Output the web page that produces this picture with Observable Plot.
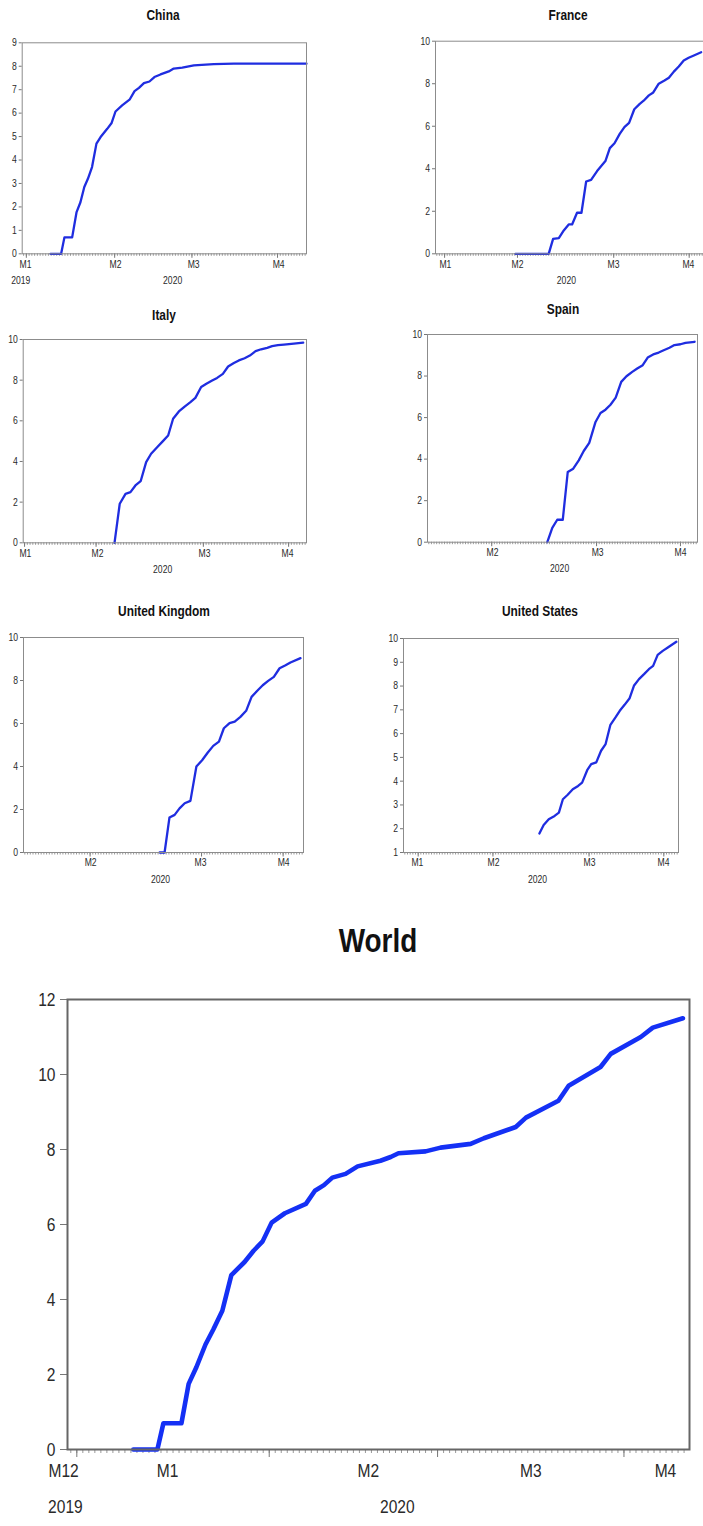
<!DOCTYPE html>
<html><head><meta charset="utf-8">
<script src="https://cdn.jsdelivr.net/npm/d3@7"></script>
<script src="https://cdn.jsdelivr.net/npm/@observablehq/plot@0.6"></script>
<style>
body{margin:0;background:#fff;}
#root{position:relative;width:703px;height:1526px;overflow:hidden;font-family:"Liberation Sans",Arial,sans-serif;background:#fff;}
.ttl{position:absolute;font-weight:bold;white-space:nowrap;color:#111;line-height:1;}
.pan{position:absolute;}
.pan svg{color:#2a2a2a;overflow:visible;}
</style></head><body><div id="root"></div>
<script>
// ---- data (x = day index from 31 Dec 2019, y = log of cumulative cases) ----
const chinaDays = [9.75,13.6,14.8,17.6,19.2,20.6,22.0,23.3,24.8,26.4,27.9,30.3,31.9,33.3,35.7,38.5,40.2,41.8,43.6,45.6,47.4,49.6,52.6,54.4,57.5,61.7,68.9,76.2,102.5];
const chinaVals = [0,0,0.7,0.7,1.78,2.2,2.85,3.2,3.7,4.7,4.98,5.33,5.58,6.07,6.33,6.59,6.94,7.08,7.28,7.35,7.54,7.65,7.78,7.9,7.94,8.04,8.09,8.11,8.11];

const franceDays = [30.2,43.0,44.7,46.9,48.8,50.7,52.0,53.9,55.6,57.4,59.3,61.6,64.8,66.5,68.3,70.3,72.1,73.9,75.9,78.0,79.5,81.5,83.2,85.3,87.5,89.2,91.1,93.0,94.9,96.8,98.8,101.6];
const franceVals = [0,0,0.7,0.74,1.1,1.38,1.38,1.93,1.93,3.4,3.48,3.89,4.36,4.97,5.2,5.64,5.96,6.16,6.8,7.05,7.2,7.45,7.59,8.0,8.15,8.28,8.57,8.81,9.09,9.22,9.33,9.48];

const italyDays = [32.7,34.6,36.7,38.5,40.3,42.2,44.2,46.0,48.2,50.3,52.2,54.0,56.1,58.2,60.3,62.1,64.2,66.1,68.2,70.0,72.1,74.0,76.1,77.9,80.0,81.9,84.0,86.0,88.2,90.0,92.1,94.3,97.9,101.3];
const italyVals = [0,1.92,2.41,2.49,2.82,3.03,3.97,4.38,4.7,5.0,5.28,6.1,6.46,6.7,6.92,7.13,7.66,7.82,7.98,8.11,8.31,8.67,8.84,8.97,9.08,9.21,9.43,9.52,9.59,9.67,9.72,9.75,9.8,9.85];

const spainDays = [45.2,47.1,49.0,51.1,53.0,55.1,57.2,59.1,61.2,63.6,65.5,67.4,69.3,71.3,73.4,75.4,77.6,79.5,81.6,83.5,85.6,87.7,89.6,91.8,93.7,96.0,97.9,101.4];
const spainVals = [0,0.69,1.08,1.08,3.38,3.54,3.94,4.39,4.78,5.79,6.22,6.38,6.62,6.96,7.72,7.99,8.2,8.36,8.52,8.89,9.04,9.13,9.24,9.36,9.49,9.53,9.6,9.65];

const ukDays = [49.6,51.4,53.2,55.1,56.9,58.8,60.9,63.1,65.2,67.3,69.3,71.4,73.2,75.3,77.2,79.3,81.4,83.4,85.5,87.5,89.5,91.6,93.7,95.9,97.7,101.4];
const ukVals = [0,0,1.63,1.75,2.05,2.29,2.4,4.0,4.29,4.65,4.96,5.16,5.78,6.02,6.09,6.31,6.59,7.24,7.52,7.78,7.98,8.17,8.57,8.71,8.84,9.04];

const usDays = [50.4,52.0,53.9,56.1,57.7,59.2,61.0,62.9,64.9,66.4,68.3,69.8,71.7,73.5,75.2,77.0,78.9,80.5,82.3,84.2,85.8,87.7,89.6,91.4,93.0,94.7,96.6,98.5,101.7];
const usVals = [1.8,2.16,2.4,2.54,2.68,3.24,3.43,3.66,3.8,3.94,4.46,4.72,4.79,5.28,5.56,6.37,6.68,6.96,7.21,7.49,8.01,8.29,8.5,8.71,8.85,9.31,9.48,9.62,9.86];

const worldDays = [10.4,14.4,15.4,18.4,19.6,20.9,22.4,23.7,25.2,26.7,28.9,30.4,31.9,33.4,35.6,39.1,40.6,42.1,43.5,45.7,47.7,51.5,53.2,54.5,59.0,61.5,66.5,68.7,74.0,75.7,81.1,82.8,88.1,89.8,94.8,96.8,101.8];
const worldVals = [0,0,0.7,0.7,1.75,2.2,2.8,3.2,3.7,4.65,5.0,5.3,5.55,6.05,6.3,6.55,6.9,7.05,7.25,7.35,7.55,7.7,7.8,7.9,7.95,8.05,8.15,8.3,8.6,8.85,9.3,9.7,10.2,10.55,11.0,11.25,11.5];

// tick labels
const countries = ["China","France","Italy","Spain","United Kingdom","United States"];
const monthsA = ["M1","M2","M3","M4"];
const monthsB = ["M2","M3","M4"];
const monthsW = ["M12","M1","M2","M3","M4"];
const yearsA = ["2019","2020"];
const yearsB = ["2020"];
const ticks9 = [0,1,2,3,4,5,6,7,8,9];
const ticks10 = [0,2,4,6,8,10];
const ticks1to10 = [1,2,3,4,5,6,7,8,9,10];
const ticksW = [0,2,4,6,8,10,12];

const zip = (ds, vs) => ds.map((d, i) => ({d, v: vs[i]}));

// ---- layout ----
const root = document.getElementById("root");
const FONT = '"Liberation Sans", Arial, sans-serif';
const SQUEEZE = 0.82; // the reference lettering is horizontally condensed

function title(text, cx, cy, size) {
  const t = document.createElement("div");
  t.className = "ttl";
  t.textContent = text;
  t.style.left = cx + "px"; t.style.top = cy + "px"; t.style.fontSize = size + "px";
  t.style.transform = `translate(-50%,-50%) scaleX(${SQUEEZE})`;
  root.appendChild(t);
}

function condense(svg) {
  const num = v => v != null && /^-?[\d.]+$/.test(v.trim());
  svg.querySelectorAll("text").forEach(t => {
    let x = t.getAttribute("x");
    let tx = 0;
    if (num(x)) { tx = +x; t.removeAttribute("x"); }
    const tr = t.getAttribute("transform") || "";
    t.setAttribute("transform", `${tr} translate(${tx},0) scale(${SQUEEZE},1)`);
  });
}

function panel(c) {
  const big = !!c.big;
  const fs = big ? 19 : 10.5;
  const monthData = c.months.map((m, i) => ({m, p: c.monthPos[i]}));
  const yearData = c.years.map((y, i) => ({y, p: c.yearPos[i]}));
  const svg = Plot.plot({
    width: c.box.w, height: c.box.h,
    marginLeft: c.frame.L - c.box.x,
    marginRight: c.box.x + c.box.w - c.frame.R,
    marginTop: c.frame.T - c.box.y,
    marginBottom: c.box.y + c.box.h - c.frame.B,
    x: {domain: c.xDomain, label: null},
    y: {domain: c.yDomain, label: null},
    style: {fontFamily: FONT, background: "transparent", overflow: "visible"},
    marks: [
      Plot.axisY({ticks: c.yTicks, label: null, tickSize: big ? 7 : 3, tickPadding: big ? 5 : 2.5, fontSize: fs, stroke: "#777"}),
      Plot.axisX({ticks: d3.range(0, 103), label: null, tickSize: big ? 4 : 2.5, tickPadding: 0, tickFormat: () => "", stroke: "#999"}),
      Plot.axisX({ticks: c.majorPos, label: null, tickSize: big ? 8 : 4.5, tickPadding: 0, tickFormat: () => "", stroke: "#777"}),
      Plot.text(monthData, {x: "p", text: "m", frameAnchor: "bottom", dy: big ? 27 : 13.7, fontSize: fs}),
      Plot.text(yearData, {x: "p", text: "y", frameAnchor: "bottom", dy: big ? 63 : 30, fontSize: fs}),
      Plot.line(c.data, {x: "d", y: "v", stroke: big ? "#1430f5" : "#1f2de0", strokeWidth: big ? 4.6 : 2.3, strokeLinejoin: "round"}),
      Plot.frame({stroke: big ? "#666" : "#8c8c8c", strokeWidth: big ? 2 : 1})
    ]
  });
  condense(svg);
  const d = document.createElement("div");
  d.className = "pan";
  d.style.left = c.box.x + "px"; d.style.top = c.box.y + "px";
  d.appendChild(svg);
  root.appendChild(d);
}

const DOM = [-0.5, 102.5];

// China
title(countries[0], 163, 15, 14.5);
panel({box: {x: 0, y: 22, w: 340, h: 272}, frame: {L: 21.7, R: 306, T: 42.3, B: 253.3},
  xDomain: DOM, yDomain: [0, 9], yTicks: ticks9, data: zip(chinaDays, chinaVals),
  months: monthsA, monthPos: [0.7, 33.3, 61.6, 92.4], majorPos: [1, 33, 61, 92],
  years: yearsA, yearPos: [-1.0, 54]});

// France
title(countries[1], 568, 15, 14.5);
panel({box: {x: 350, y: 20, w: 353, h: 274}, frame: {L: 435, R: 703, T: 40.7, B: 253.3},
  xDomain: DOM, yDomain: [0, 10], yTicks: ticks10, data: zip(franceDays, franceVals),
  months: monthsA, monthPos: [3.3, 31.0, 67.9, 96.7], majorPos: [3, 31, 68, 97],
  years: yearsB, yearPos: [49.8]});

// Italy
title(countries[2], 164, 315, 14.5);
panel({box: {x: 0, y: 318, w: 340, h: 265}, frame: {L: 22.7, R: 306, T: 339, B: 542.3},
  xDomain: DOM, yDomain: [0, 10], yTicks: ticks10, data: zip(italyDays, italyVals),
  months: monthsA, monthPos: [0.3, 26.5, 65.4, 95.6], majorPos: [0, 26, 65, 96],
  years: yearsB, yearPos: [50.2]});

// Spain
title(countries[3], 563, 309, 14.5);
panel({box: {x: 350, y: 314, w: 353, h: 269}, frame: {L: 427, R: 697, T: 334, B: 541.7},
  xDomain: DOM, yDomain: [0, 10], yTicks: ticks10, data: zip(spainDays, spainVals),
  months: monthsB, monthPos: [24.3, 64.4, 96.0], majorPos: [24, 64, 96],
  years: yearsB, yearPos: [49.9]});

// United Kingdom
title(countries[4], 164, 611, 14.5);
panel({box: {x: 0, y: 617, w: 340, h: 276}, frame: {L: 23, R: 303, T: 637, B: 852},
  xDomain: DOM, yDomain: [0, 10], yTicks: ticks10, data: zip(ukDays, ukVals),
  months: monthsB, monthPos: [24.2, 64.6, 95.2], majorPos: [24, 65, 95],
  years: yearsB, yearPos: [49.9]});

// United States
title(countries[5], 540, 611, 14.5);
panel({box: {x: 350, y: 618, w: 353, h: 275}, frame: {L: 403, R: 678, T: 638, B: 852},
  xDomain: DOM, yDomain: [1, 10], yTicks: ticks1to10, data: zip(usDays, usVals),
  months: monthsA, monthPos: [4.7, 33.2, 69.2, 96.9], majorPos: [5, 33, 69, 97],
  years: yearsB, yearPos: [49.7]});

// World
title("World", 378, 940, 34);
panel({big: true, box: {x: 0, y: 970, w: 703, h: 556}, frame: {L: 67, R: 689, T: 999, B: 1449},
  xDomain: [-0.55, 102.9], yDomain: [0, 12], yTicks: ticksW, data: zip(worldDays, worldVals),
  months: monthsW, monthPos: [-1.2, 16.1, 49.5, 76.5, 98.9], majorPos: [1, 33, 61, 92],
  years: yearsA, yearPos: [-0.9, 54.3]});
</script></body></html>
